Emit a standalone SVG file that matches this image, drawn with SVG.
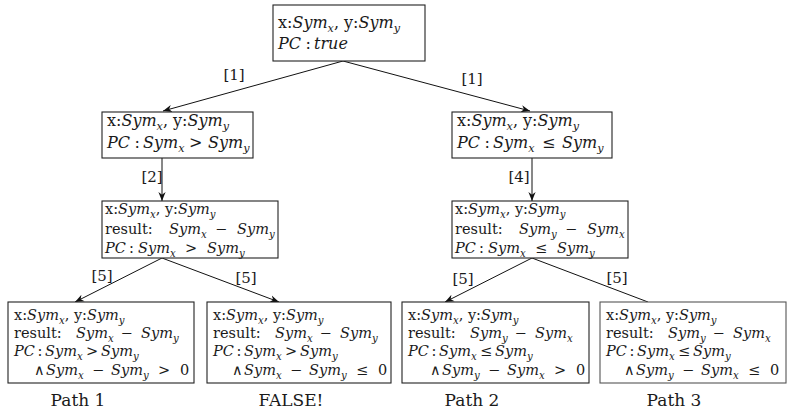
<svg xmlns="http://www.w3.org/2000/svg" width="788" height="414" viewBox="0 0 788 414">
<style>
.t{font-family:"DejaVu Serif","Liberation Serif",serif;fill:#1a1a1a}
.L{font-size:16px}
.M{font-size:14.5px}
.i{font-style:italic}
.s{font-style:italic;font-size:0.7em}
.box{fill:#fff;stroke:#222;stroke-width:1.1}
.edge{stroke:#111;stroke-width:1;fill:none}
.lbl{font-size:15px;font-family:"DejaVu Serif","Liberation Serif",serif;fill:#1a1a1a}
.cap{font-size:17px;font-family:"DejaVu Serif","Liberation Serif",serif;fill:#1a1a1a}
</style>
<defs>
<marker id="ah" viewBox="0 0 10 10" refX="10" refY="5" markerWidth="9" markerHeight="9" orient="auto" markerUnits="userSpaceOnUse">
<path d="M0,1 L10,5 L0,9 L3,5 Z" fill="#111"/>
</marker>
</defs>
<g id="connectors">
<line class="edge" x1="343" y1="61" x2="163" y2="111" marker-end="url(#ah)"/>
<line class="edge" x1="343" y1="61" x2="530" y2="111" marker-end="url(#ah)"/>
<line class="edge" x1="162" y1="158" x2="162" y2="201" marker-end="url(#ah)"/>
<line class="edge" x1="532" y1="158" x2="532" y2="201" marker-end="url(#ah)"/>
<line class="edge" x1="162" y1="258" x2="75" y2="302" marker-end="url(#ah)"/>
<line class="edge" x1="162" y1="258" x2="279" y2="302" marker-end="url(#ah)"/>
<line class="edge" x1="532" y1="258" x2="445" y2="302" marker-end="url(#ah)"/>
<line class="edge" x1="532" y1="258" x2="648" y2="302"/>
<text class="lbl" x="234" y="80" text-anchor="middle">[1]</text>
<text class="lbl" x="472" y="84" text-anchor="middle">[1]</text>
<text class="lbl" x="152" y="182" text-anchor="middle">[2]</text>
<text class="lbl" x="519" y="182" text-anchor="middle">[4]</text>
<text class="lbl" x="102" y="281" text-anchor="middle">[5]</text>
<text class="lbl" x="246" y="283" text-anchor="middle">[5]</text>
<text class="lbl" x="463" y="284" text-anchor="middle">[5]</text>
<text class="lbl" x="617" y="283" text-anchor="middle">[5]</text>
</g>
<g id="n0">
<rect class="box" x="273" y="5" width="152" height="56"/>
<text class="t L" x="278" y="28">x:<tspan class="i">Sym</tspan><tspan class="s" y="32">x</tspan><tspan y="28">, y:</tspan><tspan class="i">Sym</tspan><tspan class="s" y="32">y</tspan></text>
<text class="t L" y="49"><tspan class="i" x="278">PC</tspan><tspan x="305.5">:</tspan><tspan class="i" x="314">true</tspan></text>
</g>
<g id="n1">
<rect class="box" x="102" y="112" width="151" height="46"/>
<text class="t L" x="107" y="126">x:<tspan class="i">Sym</tspan><tspan class="s" y="130">x</tspan><tspan y="126">, y:</tspan><tspan class="i">Sym</tspan><tspan class="s" y="130">y</tspan></text>
<text class="t L" y="148"><tspan class="i" x="107">PC</tspan><tspan x="134.5">:</tspan><tspan class="i" x="143">Sym</tspan><tspan class="s" y="152">x</tspan><tspan x="189" y="148">&gt;</tspan><tspan class="i" x="208">Sym</tspan><tspan class="s" y="152">y</tspan></text>
</g>
<g id="n2">
<rect class="box" x="452" y="112" width="160" height="46"/>
<text class="t L" x="457" y="126">x:<tspan class="i">Sym</tspan><tspan class="s" y="130">x</tspan><tspan y="126">, y:</tspan><tspan class="i">Sym</tspan><tspan class="s" y="130">y</tspan></text>
<text class="t L" y="148"><tspan class="i" x="457">PC</tspan><tspan x="484.5">:</tspan><tspan class="i" x="493">Sym</tspan><tspan class="s" y="152">x</tspan><tspan x="542" y="148">≤</tspan><tspan class="i" x="562">Sym</tspan><tspan class="s" y="152">y</tspan></text>
</g>
<g id="n3">
<rect class="box" x="102" y="201" width="176" height="57"/>
<text class="t M" x="105" y="214">x:<tspan class="i">Sym</tspan><tspan class="s" y="217.5">x</tspan><tspan y="214">, y:</tspan><tspan class="i">Sym</tspan><tspan class="s" y="217.5">y</tspan></text>
<text class="t M" y="234"><tspan x="105">result:</tspan><tspan class="i" x="169">Sym</tspan><tspan class="s" y="237.5">x</tspan><tspan x="215" y="234">−</tspan><tspan class="i" x="237">Sym</tspan><tspan class="s" y="237.5">y</tspan></text>
<text class="t M" y="253"><tspan class="i" x="105">PC</tspan><tspan x="129">:</tspan><tspan class="i" x="138">Sym</tspan><tspan class="s" y="256.5">x</tspan><tspan x="185" y="253">&gt;</tspan><tspan class="i" x="207">Sym</tspan><tspan class="s" y="256.5">y</tspan></text>
</g>
<g id="n4">
<rect class="box" x="452" y="201" width="176" height="57"/>
<text class="t M" x="455" y="214">x:<tspan class="i">Sym</tspan><tspan class="s" y="217.5">x</tspan><tspan y="214">, y:</tspan><tspan class="i">Sym</tspan><tspan class="s" y="217.5">y</tspan></text>
<text class="t M" y="234"><tspan x="455">result:</tspan><tspan class="i" x="519">Sym</tspan><tspan class="s" y="237.5">y</tspan><tspan x="565" y="234">−</tspan><tspan class="i" x="587">Sym</tspan><tspan class="s" y="237.5">x</tspan></text>
<text class="t M" y="253"><tspan class="i" x="455">PC</tspan><tspan x="479">:</tspan><tspan class="i" x="488">Sym</tspan><tspan class="s" y="256.5">x</tspan><tspan x="535" y="253">≤</tspan><tspan class="i" x="557">Sym</tspan><tspan class="s" y="256.5">y</tspan></text>
</g>
<g id="n5">
<rect class="box" x="8" y="302" width="186" height="81"/>
<text class="t M" x="14" y="320">x:<tspan class="i">Sym</tspan><tspan class="s" y="323.5">x</tspan><tspan y="320">, y:</tspan><tspan class="i">Sym</tspan><tspan class="s" y="323.5">y</tspan></text>
<text class="t M" y="338"><tspan x="14">result:</tspan><tspan class="i" x="76">Sym</tspan><tspan class="s" y="341.5">x</tspan><tspan x="120.5" y="338">−</tspan><tspan class="i" x="141">Sym</tspan><tspan class="s" y="341.5">y</tspan></text>
<text class="t M" y="356"><tspan class="i" x="14">PC</tspan><tspan x="37.5">:</tspan><tspan class="i" x="45">Sym</tspan><tspan class="s" y="359.5">x</tspan><tspan x="86" y="356">&gt;</tspan><tspan class="i" x="101">Sym</tspan><tspan class="s" y="359.5">y</tspan></text>
<text class="t M" y="375"><tspan x="34">∧</tspan><tspan class="i" x="46">Sym</tspan><tspan class="s" y="378.5">x</tspan><tspan x="92" y="375">−</tspan><tspan class="i" x="111">Sym</tspan><tspan class="s" y="378.5">y</tspan><tspan x="158" y="375">&gt;</tspan><tspan x="180">0</tspan></text>
</g>
<g id="n6">
<rect class="box" x="207" y="302" width="184" height="81"/>
<text class="t M" x="213" y="320">x:<tspan class="i">Sym</tspan><tspan class="s" y="323.5">x</tspan><tspan y="320">, y:</tspan><tspan class="i">Sym</tspan><tspan class="s" y="323.5">y</tspan></text>
<text class="t M" y="338"><tspan x="213">result:</tspan><tspan class="i" x="275">Sym</tspan><tspan class="s" y="341.5">x</tspan><tspan x="319.5" y="338">−</tspan><tspan class="i" x="340">Sym</tspan><tspan class="s" y="341.5">y</tspan></text>
<text class="t M" y="356"><tspan class="i" x="213">PC</tspan><tspan x="236.5">:</tspan><tspan class="i" x="244">Sym</tspan><tspan class="s" y="359.5">x</tspan><tspan x="285" y="356">&gt;</tspan><tspan class="i" x="300">Sym</tspan><tspan class="s" y="359.5">y</tspan></text>
<text class="t M" y="375"><tspan x="232">∧</tspan><tspan class="i" x="244">Sym</tspan><tspan class="s" y="378.5">x</tspan><tspan x="290" y="375">−</tspan><tspan class="i" x="309">Sym</tspan><tspan class="s" y="378.5">y</tspan><tspan x="356" y="375">≤</tspan><tspan x="378">0</tspan></text>
</g>
<g id="n7">
<rect class="box" x="402" y="302" width="187" height="81"/>
<text class="t M" x="408" y="320">x:<tspan class="i">Sym</tspan><tspan class="s" y="323.5">x</tspan><tspan y="320">, y:</tspan><tspan class="i">Sym</tspan><tspan class="s" y="323.5">y</tspan></text>
<text class="t M" y="338"><tspan x="408">result:</tspan><tspan class="i" x="470">Sym</tspan><tspan class="s" y="341.5">y</tspan><tspan x="514.5" y="338">−</tspan><tspan class="i" x="535">Sym</tspan><tspan class="s" y="341.5">x</tspan></text>
<text class="t M" y="356"><tspan class="i" x="408">PC</tspan><tspan x="431.5">:</tspan><tspan class="i" x="439">Sym</tspan><tspan class="s" y="359.5">x</tspan><tspan x="480" y="356">≤</tspan><tspan class="i" x="495">Sym</tspan><tspan class="s" y="359.5">y</tspan></text>
<text class="t M" y="375"><tspan x="430">∧</tspan><tspan class="i" x="442">Sym</tspan><tspan class="s" y="378.5">y</tspan><tspan x="488" y="375">−</tspan><tspan class="i" x="507">Sym</tspan><tspan class="s" y="378.5">x</tspan><tspan x="554" y="375">&gt;</tspan><tspan x="576">0</tspan></text>
</g>
<g id="n8">
<rect class="box" x="600" y="302" width="186" height="81" style="stroke:#555"/>
<text class="t M" x="606" y="320">x:<tspan class="i">Sym</tspan><tspan class="s" y="323.5">x</tspan><tspan y="320">, y:</tspan><tspan class="i">Sym</tspan><tspan class="s" y="323.5">y</tspan></text>
<text class="t M" y="338"><tspan x="606">result:</tspan><tspan class="i" x="668">Sym</tspan><tspan class="s" y="341.5">y</tspan><tspan x="712.5" y="338">−</tspan><tspan class="i" x="733">Sym</tspan><tspan class="s" y="341.5">x</tspan></text>
<text class="t M" y="356"><tspan class="i" x="606">PC</tspan><tspan x="629.5">:</tspan><tspan class="i" x="637">Sym</tspan><tspan class="s" y="359.5">x</tspan><tspan x="678" y="356">≤</tspan><tspan class="i" x="693">Sym</tspan><tspan class="s" y="359.5">y</tspan></text>
<text class="t M" y="375"><tspan x="624">∧</tspan><tspan class="i" x="636">Sym</tspan><tspan class="s" y="378.5">y</tspan><tspan x="682" y="375">−</tspan><tspan class="i" x="701">Sym</tspan><tspan class="s" y="378.5">x</tspan><tspan x="748" y="375">≤</tspan><tspan x="770">0</tspan></text>
</g>
<g id="captions">
<text class="cap" x="78" y="406" text-anchor="middle">Path 1</text>
<text class="cap" x="291" y="406" text-anchor="middle">FALSE!</text>
<text class="cap" x="472" y="406" text-anchor="middle">Path 2</text>
<text class="cap" x="674" y="406" text-anchor="middle">Path 3</text>
</g>
</svg>
